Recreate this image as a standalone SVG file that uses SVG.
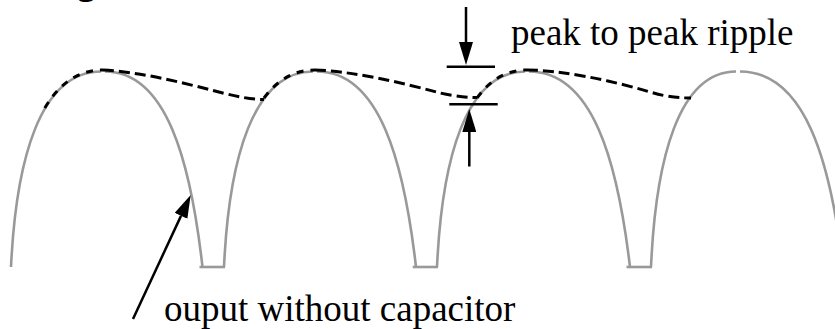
<svg xmlns="http://www.w3.org/2000/svg" width="835" height="329" viewBox="0 0 835 329">
  <style>
    .arch { fill: none; stroke: #999999; stroke-width: 2.6; stroke-linecap: butt; }
    .rise { fill: none; stroke: #000; stroke-width: 3; stroke-dasharray: 7 7; }
    .decay { fill: none; stroke: #000; stroke-width: 3; stroke-dasharray: 11 5; }
    .bar { fill: none; stroke: #000; stroke-width: 2.4; }
    .shaft { fill: none; stroke: #000; stroke-width: 2.5; }
    .lbl { font-family: 'Liberation Serif', 'Times New Roman', serif; font-size: 37px; fill: #000; }
  </style>
  <defs>
    <marker id="ah" viewBox="0 0 23 14" refX="0" refY="7" markerWidth="23" markerHeight="14" markerUnits="userSpaceOnUse" orient="auto">
      <path d="M0,0 L23,7 L0,14 Z" fill="#000"/>
    </marker>
  </defs>

  <rect x="0" y="0" width="835" height="329" fill="#fff"/>

  <text class="lbl" x="77" y="-6.5" font-family="Liberation Serif, serif" font-weight="bold">g</text>

  <g id="arches">
    <g id="arch1">
      <path class="arch" d="M11 267 C16 160, 40 71.5, 101 71.5"/>
      <path class="arch" d="M105 71.5 C166.7 71.5, 190.6 161.5, 202.5 267"/>
      <path class="arch" d="M199.5 267 H225"/>
    </g>
    <g id="arch2">
      <path class="arch" d="M224 267 C228.9 160, 252.7 71.5, 313 71.5"/>
      <path class="arch" d="M317 71.5 C379.6 71.5, 403.9 161.5, 416 267"/>
      <path class="arch" d="M412.7 267 H438"/>
    </g>
    <g id="arch3">
      <path class="arch" d="M437 267 C441.9 160, 465.4 71.5, 525 71.5"/>
      <path class="arch" d="M529 71.5 C592.9 71.5, 617.6 161.5, 630 267"/>
      <path class="arch" d="M626.5 267 H652"/>
    </g>
    <g id="arch4">
      <path class="arch" d="M651 267 C655.7 160, 678.4 71.5, 736 71.5"/>
      <path class="arch" d="M740 71.5 C805.2 71.5, 830.4 161.5, 843 267"/>
    </g>
  </g>

  <g id="envelope">
    <path class="rise" d="M44.8 108 C58.8 84.2, 77.8 70, 103 70"/>
    <path class="decay" d="M103 70 C140 72, 180 82, 215 91 C240 97.5, 252 99.5, 264 99.5"/>
    <path class="rise" d="M264 98 C277.1 80.2, 293.8 70, 315 70"/>
    <path class="decay" d="M315 70 C350 71, 400 82, 440 93 C458 97, 470 97.5, 477 97.5"/>
    <path class="rise" d="M477 98 C489.7 80.2, 506.2 70, 527 70"/>
    <path class="decay" d="M527 70 C560 70, 610 80, 650 92 C668 97.5, 682 98, 691 98"/>
  </g>

  <g id="ripple-marker">
    <path class="bar" d="M446.7 66.7 H495"/>
    <path class="bar" d="M449.3 104.3 H497.7"/>
  </g>

  <g id="connectors">
    <path class="shaft" d="M466 7 V42" marker-end="url(#ah)"/>
    <path class="shaft" d="M469.3 166.5 V132" marker-end="url(#ah)"/>
    <path class="shaft" d="M133 319 L181 215.9" stroke-width="3" marker-end="url(#ah)"/>
  </g>

  <g id="labels">
    <text class="lbl" x="511" y="45" font-family="Liberation Serif, serif">peak to peak ripple</text>
    <text class="lbl" x="164" y="321" font-family="Liberation Serif, serif">ouput without capacitor</text>
  </g>
</svg>
